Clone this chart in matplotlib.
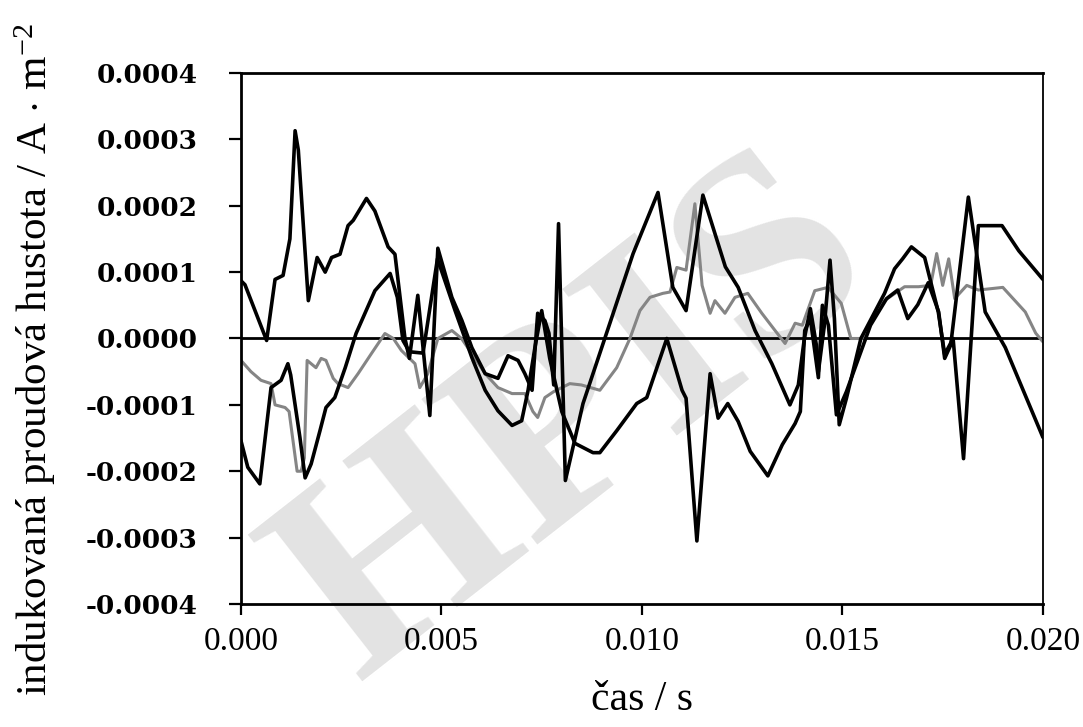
"""Induced current density vs time, three traces (two black, one grey)."""

import matplotlib

matplotlib.use("Agg")
import matplotlib.pyplot as plt  # noqa: E402
from matplotlib.ticker import FuncFormatter  # noqa: E402

# ---- data ----
t_a = [0, 0.0001, 0.00064, 0.00085, 0.00105, 0.00122, 0.00135, 0.00143, 0.00168,
       0.0019, 0.0021, 0.00226, 0.00247, 0.00267, 0.0028, 0.00313, 0.00334, 0.00367,
       0.00384, 0.00409, 0.0042, 0.00441, 0.00471, 0.00491, 0.00526, 0.00551, 0.00576,
       0.00609, 0.00641, 0.00666, 0.00691, 0.00708, 0.00726, 0.0074, 0.00758, 0.00768,
       0.0078, 0.00792, 0.00809, 0.00853, 0.0092, 0.00978, 0.0104, 0.01077, 0.0111,
       0.01152, 0.01208, 0.0124, 0.01282, 0.01324, 0.01369, 0.0139, 0.01405, 0.0142,
       0.01435, 0.0144, 0.01455, 0.01469, 0.0148, 0.01492, 0.0151, 0.0153, 0.01546,
       0.01605, 0.0163, 0.0165, 0.01672, 0.01705, 0.01739, 0.01755, 0.01776, 0.01802,
       0.01839, 0.01898, 0.0194, 0.020]
j_a = [0.000087, 0.000081, -0.000003, 0.000089, 0.000095, 0.00015, 0.000313, 0.000284,
       0.000057, 0.000122, 0.0001, 0.000122, 0.000127, 0.00017, 0.000178, 0.000211,
       0.000192, 0.000138, 0.000127, 0.0, -0.00003, 0.000065, -0.000116, 0.000136,
       0.000062, 0.000027, -0.000014, -0.000053, -0.00006, -0.000026, -0.000033,
       -0.000053, -0.000078, 0.000038, 0.000027, 0.000008, -0.00007, 0.000173,
       -0.000214, -0.000098, 0.000023, 0.000128, 0.00022, 0.000077, 0.000042,
       0.000216, 0.000108, 0.000077, 0.000012, -0.000038, -0.0001, -0.00007, 0.0,
       0.000045, -0.00001, -0.00005, 0.00002, 0.000118, 0.00003, -0.00013, -0.00009,
       -0.00004, 0.0, 0.000068, 0.000105, 0.00012, 0.000138, 0.000122, 0.00004,
       -0.000024, 0.0, -0.000181, 0.00017, 0.00017, 0.000132, 0.000089]

t_b = [0, 0.00017, 0.00047, 0.00075, 0.001, 0.00117, 0.00124, 0.00147, 0.0016,
       0.00175, 0.00197, 0.00212, 0.00234, 0.0026, 0.00287, 0.00334, 0.00372, 0.0039,
       0.00404, 0.0042, 0.00454, 0.0049, 0.00534, 0.00576, 0.00609, 0.00641, 0.00676,
       0.007, 0.00716, 0.00733, 0.0075, 0.0077, 0.008, 0.00833, 0.00878, 0.00895,
       0.00937, 0.00987, 0.01012, 0.01062, 0.011, 0.0111, 0.01137, 0.0117, 0.0119,
       0.01214, 0.0124, 0.0127, 0.01314, 0.0135, 0.01382, 0.01395, 0.01406, 0.0142,
       0.0144, 0.0145, 0.01465, 0.01485, 0.0151, 0.0154, 0.0157, 0.0161, 0.01638,
       0.01663, 0.01688, 0.01714, 0.0174, 0.01755, 0.0177, 0.01814, 0.01856, 0.01906,
       0.020]
j_b = [-0.000154, -0.000194, -0.000219, -0.000074, -0.000063, -0.000038, -0.000055,
       -0.000149, -0.00021, -0.000189, -0.000139, -0.000104, -0.000089, -0.000044,
       0.0000075, 0.000072, 0.000098, 0.000062, -0.000003, -0.00002, -0.000022,
       0.00012, 0.000042, -0.000029, -0.000078, -0.000109, -0.000131, -0.000124,
       -0.000078, -0.000014, 0.000042, -0.00003, -0.00011, -0.000158, -0.000172,
       -0.000172, -0.000139, -0.000098, -0.000089, 0.0, -0.000078, -0.00009,
       -0.000305, -0.000053, -0.00012, -0.000098, -0.000125, -0.00017, -0.000207,
       -0.00016, -0.000128, -0.00011, 0.000012, 0.00003, -0.000059, 0.00005, 0.00002,
       -0.000115, -0.00008, -0.00003, 0.00002, 0.00006, 0.000073, 0.00003, 0.000051,
       0.000084, 0.00004, -0.00003, -0.00001, 0.000213, 0.00004, -0.0000135, -0.000149]

t_c = [0, 0.00025, 0.0005, 0.00075, 0.00085, 0.0011, 0.0012, 0.0014, 0.0015, 0.00158,
       0.00165, 0.00187, 0.002, 0.00212, 0.0023, 0.00242, 0.00267, 0.00292, 0.00325,
       0.00359, 0.0038, 0.004, 0.00434, 0.00446, 0.00466, 0.00491, 0.00526, 0.0055,
       0.00576, 0.00609, 0.00641, 0.00676, 0.00708, 0.00728, 0.0074, 0.00758, 0.0078,
       0.0082, 0.00849, 0.00895, 0.00937, 0.0097, 0.00995, 0.0102, 0.01052, 0.0107,
       0.01087, 0.0111, 0.01132, 0.0115, 0.0117, 0.01182, 0.01207, 0.01232, 0.01264,
       0.01299, 0.01332, 0.01357, 0.01382, 0.014, 0.01431, 0.01464, 0.01497, 0.01521,
       0.01549, 0.016, 0.01655, 0.0169, 0.0172, 0.01735, 0.0175, 0.01765, 0.0178,
       0.0181, 0.01839, 0.019, 0.01956, 0.01982, 0.020]
j_c = [-0.000033, -0.00005, -0.000063, -0.000068, -0.0001, -0.000104, -0.00011,
       -0.0002, -0.0002, -0.00018, -0.000033, -0.000044, -0.00003, -0.000033, -0.00006,
       -0.000068, -0.000074, -0.000053, -0.000023, 0.0000075, 0.0, -0.000018,
       -0.000038, -0.000074, -0.000053, 0.0, 0.000012, 0.0, -0.000023, -0.000053,
       -0.000074, -0.000083, -0.000083, -0.00011, -0.000119, -0.000089, -0.00008,
       -0.000068, -0.00007, -0.000078, -0.000044, 0.0, 0.000042, 0.000062, 0.000068,
       0.00007, 0.000107, 0.000103, 0.000203, 0.00008, 0.000038, 0.000057, 0.000038,
       0.000062, 0.000068, 0.000038, 0.000012, -0.0000075, 0.000023, 0.00002, 0.000072,
       0.000077, 0.000053, 0.0, 0.0, 0.000055, 0.000078, 0.000078, 0.00008, 0.000128,
       0.00008, 0.00012, 0.00006, 0.00008, 0.000073, 0.000077, 0.00004, 0.000008,
       -0.000005]

x_ticks = [0.000, 0.005, 0.010, 0.015, 0.020]
y_ticks = [-0.0004, -0.0003, -0.0002, -0.0001, 0.0, 0.0001, 0.0002, 0.0003, 0.0004]

plt.rcParams["mathtext.fontset"] = "custom"
plt.rcParams["mathtext.rm"] = "Liberation Serif"
plt.rcParams["mathtext.it"] = "Liberation Serif:italic"

fig = plt.figure(figsize=(10.83, 7.27), dpi=100)
ax = fig.add_axes([0.2225, 0.1692, 0.7405, 0.7304])

# watermark behind the traces
ax.text(0.42, 0.34, "HPIS", transform=ax.transAxes, rotation=38,
        ha="center", va="center", fontsize=205, fontweight="bold",
        family="Liberation Serif", color="#e3e3e3", zorder=0.5, clip_on=False)

ax.axhline(0.0, color="black", lw=2.0, zorder=1)
line_kw = dict(solid_joinstyle="round", solid_capstyle="round")
ax.plot(t_c, j_c, color="#858585", lw=2.2, zorder=2, **line_kw)
ax.plot(t_b, j_b, color="black", lw=2.6, zorder=3, **line_kw)
ax.plot(t_a, j_a, color="black", lw=2.6, zorder=3, **line_kw)

ax.set_xlim(0, 0.020)
ax.set_ylim(-0.0004, 0.0004)
ax.set_xticks(x_ticks)
ax.set_yticks(y_ticks)
ax.xaxis.set_major_formatter(FuncFormatter(lambda v, p: f"{v:.3f}"))
ax.yaxis.set_major_formatter(
    FuncFormatter(lambda v, p: f"{round(v, 6):.4f}".replace("-0.0000", "0.0000")))

for s in ax.spines.values():
    s.set_linewidth(2.0)
ax.spines["right"].set_linewidth(1.3)

ax.tick_params(axis="y", direction="out", length=9, width=1.6, pad=22)
ax.tick_params(axis="x", direction="out", length=8, width=1.6, pad=8)
for lab in ax.get_yticklabels():
    lab.set_family("DejaVu Serif")
    lab.set_fontweight("bold")
    lab.set_fontsize(19)
for lab in ax.get_xticklabels():
    lab.set_family("Liberation Serif")
    lab.set_fontsize(24)

fig.text(0.032, 0.505, r"indukovaná proudová hustota / A $\cdot$ m$^{-2}$",
         rotation=90, ha="center", va="center", fontsize=31,
         family="Liberation Serif")
fig.text(0.593, 0.038, "čas / s", ha="center", va="center", fontsize=30,
         family="Liberation Serif")

fig.savefig("out.png", dpi=100, facecolor="white")
